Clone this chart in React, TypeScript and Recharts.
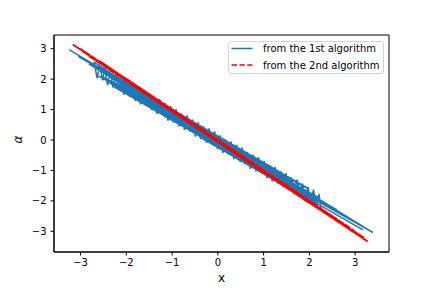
import React from "react";
import { LineChart, Line, XAxis, YAxis, ReferenceArea } from "recharts";

// 1st algorithm: (x, alpha) pairs in sampling order
const blueX = [-3.25, -1.52, 0.84, -2.31, 1.67, -0.36, 2.12, -1.95, 0.27, -2.62, 1.21, -0.98, 3.39, -1.24, 0.58, -2.44, 1.49, -0.11, 1.93, -1.71, 0.96, -2.18, 0.13, -0.72, 2.21, -1.38, 1.35, -2.55, 0.44, -3.05, 1.78, -0.49, -1.86, 0.71, -0.87, 1.08, -2.07, 2.6, -0.21, 1.59, -1.11, 0.02, 2.16, -2.69, 0.9, -1.63, 1.99, -0.6, 0.35, -2.26, 3.17, -0.03, 1.72, -1.29, 0.64, -2.38, 1.44, -0.79, 2.09, -2.9, 0.19, -0.41, 1.13, -2.0, 0.77, -1.45, 1.85, -0.93, 0.51, -2.5, 2.9, -0.15, 1.56, -1.58, 2.24, -1.02, 0.08, -2.13, 1.02, -0.55, 0.39, -1.9, 1.63, -0.28, 0.67, -2.65, 2.45, -1.18, 1.17, -0.66, 0.22, -2.34, 1.39, -1.67, 0.81, -2.82, 2.02, -0.04, 3.05, -1.79,
  -2.70, -2.64, -2.58, -2.52, -2.47, -2.41, -2.35, -2.29, -2.23, -2.17, -2.11, -2.05, -1.99, -1.93, -1.87, -1.81, -1.75, -1.69, -1.63, -1.57, -1.51, -1.45, -1.39, -1.33, -1.27, -1.21, -1.15, -1.09, -1.03, -0.97, -0.91, -0.85, -0.79, -0.73, -0.67, -0.61, -0.55, -0.49, -0.43, -0.37, -0.31, -0.25, -0.19, -0.13, -0.07, -0.01, 0.05, 0.11, 0.17, 0.23, 0.29, 0.35, 0.41, 0.47, 0.53, 0.59, 0.65, 0.71, 0.77, 0.83, 0.89, 0.95, 1.01, 1.07, 1.13, 1.19, 1.25, 1.31, 1.37, 1.43, 1.49, 1.55, 1.61, 1.67, 1.73, 1.79, 1.85, 1.91, 1.97, 2.03, 2.09, 2.15, 2.21, 2.25];
const blueAlpha = [2.97, 1.41, -0.94, 2.03, -1.34, 0.1, -2.0, 1.48, -0.15, 2.42, -1.08, 1.0, -3.04, 0.91, -0.58, 1.94, -1.54, 0.14, -1.95, 1.52, -0.72, 2.05, -0.35, 0.53, -1.9, 1.18, -1.35, 2.1, -0.25, 2.75, -1.56, 0.51, 1.55, -0.85, 0.56, -0.88, 1.88, -2.3, 0.05, -1.31, 1.01, 0.11, -2.12, 2.39, -0.9, 1.2, -1.61, 0.65, -0.49, 1.74, -2.95, -0.19, -1.7, 1.26, -0.53, 2.18, -1.27, 0.75, -1.87, 2.62, -0.16, 0.11, -1.23, 1.59, -0.62, 1.16, -1.78, 0.75, -0.7, 2.34, -2.62, 0.24, -1.47, 1.38, -2.15, 0.71, -0.22, 1.83, -0.98, 0.32, -0.35, 1.8, -1.67, 0.2, -0.49, 2.14, -2.2, 0.79, -0.89, 0.58, -0.28, 1.95, -1.1, 1.54, -0.74, 2.5, -1.98, 0.02, -2.75, 1.68,
  2.55, 2.03, 2.48, 1.96, 2.37, 1.80, 2.25, 1.72, 2.18, 1.64, 2.07, 1.49, 1.94, 1.42, 1.87, 1.29, 1.71, 1.17, 1.63, 1.12, 1.54, 0.99, 1.40, 0.86, 1.34, 0.80, 1.20, 0.64, 1.11, 0.57, 1.01, 0.45, 0.87, 0.33, 0.81, 0.28, 0.67, 0.11, 0.58, 0.04, 0.45, -0.09, 0.38, -0.16, 0.28, -0.29, 0.15, -0.42, 0.02, -0.48, -0.05, -0.62, -0.16, -0.70, -0.25, -0.79, -0.39, -0.95, -0.49, -1.03, -0.57, -1.10, -0.69, -1.25, -0.82, -1.37, -0.88, -1.43, -1.02, -1.56, -1.10, -1.65, -1.24, -1.78, -1.30, -1.85, -1.43, -2.00, -1.54, -2.07, -1.63, -2.19, -1.78, -2.24];

// 2nd algorithm: (x, alpha) pairs in sampling order
const redX = [-3.17, 2.41, -0.88, 1.73, -2.26, 0.35, 3.28, -1.49, 0.97, -2.83, 2.05, -0.21, 1.36, -1.92, 2.87, -0.57, 0.62, -2.58, 1.12, -1.2, 2.63, 0.08, -3.0, 1.9, -1.68, 0.45, -0.73, 3.1, -2.4, 1.55, -0.39, 0.79, -2.04, 2.25, -1.04, -0.05, 1.24, -2.71, 2.74, -1.35, 0.21, -1.81, 2.98, -0.95, 0.53, -2.95, 1.63, -0.3, 2.52, -2.15, 0.88, -1.58, 1.98, -0.65, 3.2, -3.1, 1.05, -0.12];
const redAlpha = [3.14, -2.41, 0.83, -1.72, 2.26, -0.42, -3.34, 1.48, -1.0, 2.77, -2.1, 0.22, -1.38, 1.85, -2.88, 0.57, -0.66, 2.59, -1.19, 1.16, -2.69, -0.09, 2.99, -1.9, 1.62, -0.44, 0.7, -3.15, 2.35, -1.62, 0.33, -0.79, 2.05, -2.27, 1.04, -0.02, -1.25, 2.69, -2.78, 1.28, -0.23, 1.8, -2.98, 0.93, -0.58, 2.91, -1.64, 0.29, -2.52, 2.11, -0.94, 1.56, -2.05, 0.6, -3.22, 3.07, -1.04, 0.08];

const xTicks = [-3, -2, -1, 0, 1, 2, 3];
const yTicks = [-3, -2, -1, 0, 1, 2, 3];
const xDomain = [-3.58, 3.74];
const yDomain = [-3.68, 3.45];
const seriesNames = ["from the 1st algorithm", "from the 2nd algorithm"];

const blueData = blueX.map((x, i) => ({ x, y: blueAlpha[i] }));
const redData = redX.map((x, i) => ({ x, y: redAlpha[i] }));

const FONT = "DejaVu Sans, sans-serif";
const fmt = (v: number) => (v < 0 ? "\u2212" + Math.abs(v) : String(v));

const LegendBox = () => (
  <div
    style={{
      position: "absolute",
      left: 228,
      top: 40.5,
      width: 156,
      height: 33,
      boxSizing: "border-box",
      border: "1px solid #d5d5d5",
      borderRadius: 3,
      background: "rgba(255,255,255,0.8)",
    }}
  >
    <svg width={156} height={33} style={{ position: "absolute", left: -1, top: -1 }}>
      <line x1={3.5} x2={24.5} y1={7.5} y2={7.5} stroke="#1f77b4" strokeWidth={1.5} />
      <line x1={3.5} x2={24.5} y1={24} y2={24} stroke="#ff0000" strokeWidth={1.5} strokeDasharray="5.5 2.4" />
      <text x={35} y={11} fontSize={10} fontFamily={FONT} fill="#000">{seriesNames[0]}</text>
      <text x={35} y={27.7} fontSize={10} fontFamily={FONT} fill="#000">{seriesNames[1]}</text>
    </svg>
  </div>
);

export default function App() {
  return (
    <div style={{ position: "absolute", left: 0, top: 0, width: 432, height: 288, background: "#fff" }}>
      <LineChart width={432} height={288} margin={{ top: 35, right: 43, bottom: 0, left: 0 }}>
        <XAxis
          dataKey="x"
          type="number"
          domain={xDomain}
          ticks={xTicks}
          tickFormatter={fmt}
          allowDataOverflow
          height={36}
          tickSize={3.5}
          tickMargin={3.5}
          stroke="#000"
          tick={{ fill: "#000", fontSize: 10, fontFamily: FONT }}
          label={{ value: "x", position: "insideBottom", offset: 6, fontSize: 12, fontFamily: FONT, fill: "#000" }}
        />
        <YAxis
          dataKey="y"
          type="number"
          domain={yDomain}
          ticks={yTicks}
          tickFormatter={fmt}
          allowDataOverflow
          width={54}
          tickSize={3.5}
          tickMargin={4}
          stroke="#000"
          tick={{ fill: "#000", fontSize: 10, fontFamily: FONT }}
          label={{ value: "\u03b1", angle: -90, position: "insideLeft", offset: 18, fontSize: 12, fontStyle: "italic", fontFamily: FONT, fill: "#000" }}
        />
        <ReferenceArea x1={xDomain[0]} x2={xDomain[1]} y1={yDomain[0]} y2={yDomain[1]} fill="none" stroke="#000" strokeWidth={1} ifOverflow="visible" />
        <Line data={blueData} dataKey="y" name={seriesNames[0]} stroke="#1f77b4" strokeWidth={1.5} dot={false} isAnimationActive={false} />
        <Line data={redData} dataKey="y" name={seriesNames[1]} stroke="#ff0000" strokeWidth={1.8} strokeDasharray="5.5 2.4" dot={false} isAnimationActive={false} />
      </LineChart>
      <LegendBox />
    </div>
  );
}
